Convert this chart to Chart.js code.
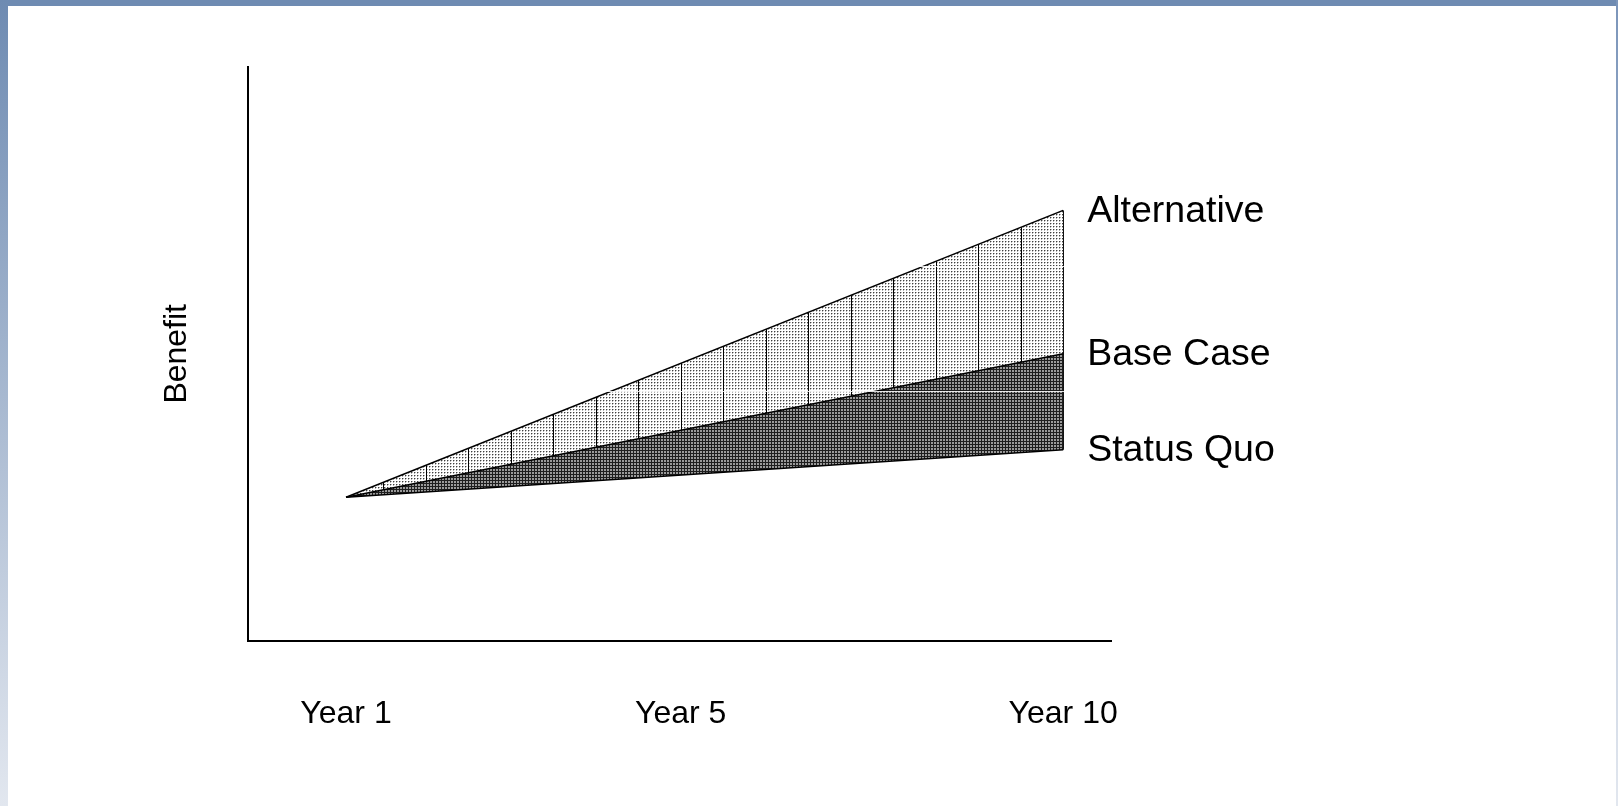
<!DOCTYPE html>
<html>
<head>
<meta charset="utf-8">
<script src="https://cdn.jsdelivr.net/npm/chart.js@4.4.1/dist/chart.umd.min.js"></script>
<style>
  html, body { margin: 0; padding: 0; background: #ffffff; overflow: hidden; }
  #wrap { position: relative; width: 1618px; height: 806px; background: #ffffff; }
  #c { position: absolute; left: 0; top: 0; }
  .band-top { position: absolute; left: 0; top: 0; width: 1618px; height: 6px; background: #6e8bb2; }
  .band-left { position: absolute; left: 0; top: 0; width: 8px; height: 806px; background: linear-gradient(#6e8bb2, #e2e7ef); }
  .band-right { position: absolute; right: 0; top: 0; width: 2px; height: 806px; background: linear-gradient(#7b95ba, #e2e7ef); }
</style>
</head>
<body>
<div id="wrap">
  <canvas id="c" width="1618" height="806"></canvas>
  <div class="band-top"></div>
  <div class="band-left"></div>
  <div class="band-right"></div>
</div>
<script>
// ---- data ----
const years = [1, 10];
const statusQuo = [11.5, 15.3];
const baseCase = [11.5, 23.0];
const alternative = [11.5, 34.5];
const seriesNames = ['Status Quo', 'Base Case', 'Alternative'];
const xTickPositions = [1, 5.2, 10];
const xTickLabels = ['Year 1', 'Year 5', 'Year 10'];
const yAxisTitle = 'Benefit';

// ---- fill patterns ----
function makeLightPattern(ctx) {
  const W = 255;
  const t = document.createElement('canvas');
  t.width = W; t.height = 3;
  const g = t.getContext('2d');
  g.fillStyle = '#ffffff'; g.fillRect(0, 0, W, 3);
  for (let x = 0; x < W; x += 3) {
    g.fillStyle = '#404040'; g.fillRect(x + 1, 1, 1, 1);
    g.fillStyle = '#b4b4b4'; g.fillRect(x + 2, 1, 1, 1); g.fillRect(x + 1, 2, 1, 1);
  }
  g.fillStyle = '#000000';
  for (let k = 0; k < 6; k++) g.fillRect(Math.round(k * 42.5), 0, 1, 3);
  const p = ctx.createPattern(t, 'repeat');
  if (p.setTransform) p.setTransform(new DOMMatrix().translate(128, 0));
  return p;
}
function makeDarkPattern(ctx) {
  const t = document.createElement('canvas');
  t.width = 3; t.height = 3;
  const g = t.getContext('2d');
  g.fillStyle = '#9a9a9a'; g.fillRect(0, 0, 3, 3);
  g.fillStyle = '#1e1e1e'; g.fillRect(0, 0, 3, 1); g.fillRect(0, 0, 1, 3);
  return ctx.createPattern(t, 'repeat');
}

const canvas = document.getElementById('c');
const ctx2d = canvas.getContext('2d');
const lightPattern = makeLightPattern(ctx2d);
const darkPattern = makeDarkPattern(ctx2d);

const toPoints = (vals) => years.map((yr, i) => ({ x: yr, y: vals[i] }));
const lastIdx = years.length - 1;

const endLabels = {
  id: 'endLabels',
  afterDatasetsDraw(chart) {
    const { ctx, scales: { x, y } } = chart;
    ctx.save();
    ctx.font = '37.5px "Liberation Sans", Arial, sans-serif';
    ctx.fillStyle = '#000000';
    ctx.textBaseline = 'middle';
    ctx.textAlign = 'left';
    chart.data.datasets.forEach(ds => {
      if (!ds.endLabel) return;
      const last = ds.data[ds.data.length - 1];
      ctx.fillText(ds.label, x.getPixelForValue(last.x) + 24, y.getPixelForValue(last.y) + 1);
    });
    ctx.restore();
  }
};

new Chart(canvas, {
  type: 'line',
  data: {
    datasets: [
      { label: seriesNames[0], data: toPoints(statusQuo), fill: false, borderColor: '#000', borderWidth: 1.5, endLabel: true },
      { label: seriesNames[1], data: toPoints(baseCase), fill: '-1', backgroundColor: darkPattern, borderColor: '#000', borderWidth: 1.5, endLabel: true },
      { label: seriesNames[2], data: toPoints(alternative), fill: '-1', backgroundColor: lightPattern, borderColor: '#000', borderWidth: 1.5, endLabel: true },
      { label: 'edge', data: [{ x: years[lastIdx], y: statusQuo[lastIdx] }, { x: years[lastIdx], y: alternative[lastIdx] }], fill: false, borderColor: '#000', borderWidth: 1.5 }
    ]
  },
  options: {
    responsive: false,
    animation: false,
    devicePixelRatio: 1,
    elements: { point: { radius: 0, hoverRadius: 0 }, line: { tension: 0 } },
    layout: { padding: { left: 0, top: 67, right: 507, bottom: 19 } },
    plugins: { legend: { display: false }, tooltip: { enabled: false } },
    events: [],
    scales: {
      x: {
        type: 'linear',
        min: -0.23,
        max: 10.6,
        afterBuildTicks: (scale) => { scale.ticks = xTickPositions.map(v => ({ value: v })); },
        grid: { display: false, drawTicks: false },
        border: { display: true, color: '#000', width: 2, z: 2 },
        ticks: {
          padding: 54,
          maxRotation: 0,
          autoSkip: false,
          color: '#000',
          font: { family: '"Liberation Sans", Arial, sans-serif', size: 32 },
          callback: (v, i) => xTickLabels[i]
        }
      },
      y: {
        type: 'linear',
        min: 0,
        max: 46,
        ticks: { display: false, stepSize: 10 },
        grid: { display: true, drawTicks: false, color: 'rgba(255,255,255,0.85)', lineWidth: 1, z: 1 },
        border: { display: true, color: '#000', width: 2, z: 2 },
        title: {
          display: true,
          text: yAxisTitle,
          color: '#000',
          font: { family: '"Liberation Sans", Arial, sans-serif', size: 32 },
          padding: { top: 158, bottom: 51.6 }
        }
      }
    }
  },
  plugins: [endLabels]
});
</script>
</body>
</html>
